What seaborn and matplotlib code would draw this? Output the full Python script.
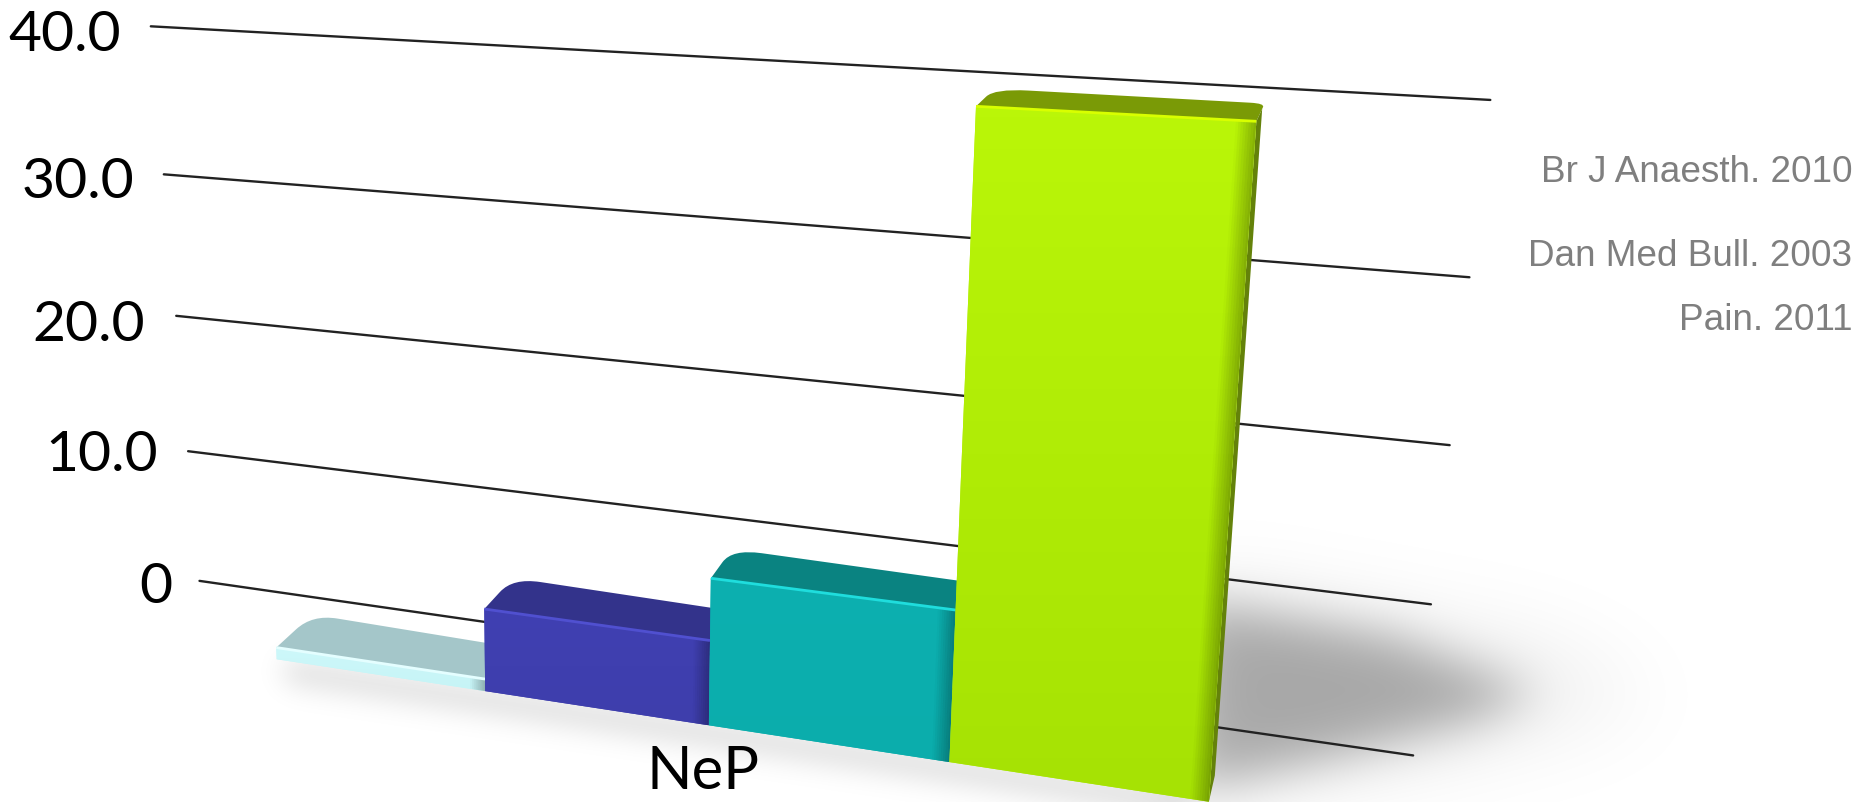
import numpy as np
import pandas as pd
import matplotlib
matplotlib.use("Agg")
import matplotlib.pyplot as plt
from matplotlib.transforms import Transform
from matplotlib.path import Path
from matplotlib.patches import PathPatch
import seaborn as sns

# ---- data ----
categories = ["s1", "s2", "s3", "s4"]
values = [0.8, 5.4, 9.3, 38.0]
tick_values = [0, 10, 20, 30, 40]
tick_labels = ["0", "10.0", "20.0", "30.0", "40.0"]
x_label = "NeP"
sources = ["Br J Anaesth. 2010", "Dan Med Bull. 2003", "Pain. 2011"]

# ---- styles ----
base_colors = ["#C8F6F8", "#3F3FAF", "#0CAFAE", "#B2EE08"]
top_colors = ["#A4C6C9", "#33338B", "#0A8381", "#7A9A06"]
side_colors = ["#8FB5B8", "#2A2A80", "#087072", "#64820A"]
grad_top = ["#CDF8FA", "#4040B2", "#0DB0B0", "#BAF608"]
grad_bot = ["#C6F4F6", "#3E3EAC", "#0BADAC", "#A6E204"]
highlight = ["#E4FEFF", "#5050D0", "#1FDDDD", "#D8FF00"]

S = 1862 / 1568  # calibration points below are in the 1568-wide picture


def homography(src, dst):
    A, b = [], []
    for (u, v), (x, y) in zip(src, dst):
        A.append([u, v, 1, 0, 0, 0, -u * x, -v * x]); b.append(x)
        A.append([0, 0, 0, u, v, 1, -u * y, -v * y]); b.append(y)
    h = np.linalg.solve(np.array(A, float), np.array(b, float))
    return np.append(h, 1).reshape(3, 3)


class Perspective(Transform):
    input_dims = output_dims = 2
    is_separable = False
    has_inverse = False

    def __init__(self, H):
        super().__init__()
        self.H = H

    def transform_non_affine(self, values):
        p = np.asarray(values, float)
        q = np.c_[p, np.ones(len(p))] @ self.H.T
        return q[:, :2] / q[:, 2:3]


def plane(src, dst):
    return Perspective(homography(src, [(x * S, y * S) for x, y in dst]))


REF = 38.0
bar_corners = [(-.5, 0), (3.5, 0), (-.5, REF), (3.5, REF)]
wall = plane([(0, 0), (1, 0), (0, 40), (1, 40)],
             [(168, 490), (1190, 637), (127, 23), (1255, 85)])
front = plane(bar_corners, [(233, 556), (1018, 676), (216, 58), (1058, 103)])
back = plane(bar_corners, [(263, 528), (1023, 654), (261, 44), (1065, 88)])


def F(x, y):
    return front.transform_non_affine(np.array([[x, y]]))[0]


def B(x, y):
    return back.transform_non_affine(np.array([[x, y]]))[0]


sns.set_theme(style="white")
fig = plt.figure(figsize=(18.62, 8.03), dpi=100, facecolor="white")
ax = fig.add_axes([0, 0, 1, 1])

# gridlines
grid_df = pd.DataFrame([(t, u) for t in tick_values for u in (0, 1)], columns=["tick", "u"])
sns.lineplot(data=grid_df, x="u", y="tick", units="tick", estimator=None,
             color="#222222", linewidth=1.7, ax=ax, legend=False)
grid_lines = list(ax.get_lines())

# bars
sns.barplot(x=categories, y=values, hue=categories, palette=base_colors, width=1.0,
            saturation=1, errorbar=None, legend=False, dodge=False, ax=ax)
bars = list(ax.patches)

ax.set_xlim(0, 1862)
ax.set_ylim(803, 0)
ax.axis("off")
px = ax.transData

for ln in grid_lines:
    ln.set_transform(wall + px)
    ln.set_clip_on(False)
    ln.set_zorder(2)
    ln.set_solid_capstyle("round")

# soft floor shadows
H, W = 803, 1862
PAD = 220
yy, xx = np.mgrid[0:H + 2 * PAD, 0:W + 2 * PAD]
pts = np.c_[xx.ravel() + .5 - PAD, yy.ravel() + .5 - PAD]


def blurred(poly, sigma):
    m = Path(np.array(poly) * S).contains_points(pts).reshape(H + 2 * PAD, W + 2 * PAD).astype(float)
    fy = np.fft.fftfreq(m.shape[0])[:, None]
    fx = np.fft.rfftfreq(m.shape[1])[None, :]
    g = np.exp(-2 * (np.pi * sigma) ** 2 * (fx ** 2 + fy ** 2))
    out = np.fft.irfft2(np.fft.rfft2(m) * g, s=m.shape)
    return out[PAD:PAD + H, PAD:PAD + W]


cast = blurred([(1000, 505), (1000, 668), (1110, 642), (1240, 608), (1295, 585), (1170, 535)], 24)
wide = blurred([(1000, 490), (1000, 670), (1200, 640), (1400, 590), (1300, 545)], 45)
along = blurred([(240, 556), (1000, 668), (1000, 688), (240, 575)], 14)
alpha = np.clip(0.27 * cast + 0.08 * wide + 0.15 * along, 0, 1)
rgba = np.zeros((H, W, 4))
rgba[..., 3] = alpha
ax.imshow(rgba, extent=(0, W, H, 0), zorder=1, aspect="auto", interpolation="bilinear")
ax.set_xlim(0, 1862)
ax.set_ylim(803, 0)

# 3D bodies, built from the bars seaborn produced
for i, rect in enumerate(bars):
    x0 = rect.get_x()
    x1 = x0 + rect.get_width()
    v = rect.get_height()
    z = 10 + 10 * i

    def T(x, t):
        return (1 - t) * F(x, v) + t * B(x, v)

    w = x1 - x0
    top = [T(x0, 0), T(x1, 0), T(x1, .8), T(x1, 1), T(x1 - .05 * w, 1),
           T(x0 + .13 * w, 1), T(x0, 1), T(x0, .55), T(x0, 0)]
    codes = [Path.MOVETO, Path.LINETO, Path.LINETO, Path.CURVE3, Path.CURVE3,
             Path.LINETO, Path.CURVE3, Path.CURVE3, Path.CLOSEPOLY]
    ax.add_patch(PathPatch(Path(np.array(top), codes), fc=top_colors[i], ec="none", zorder=z))

    side = np.array([T(x1, 0), T(x1, .7), B(x1, 0), F(x1, 0)])
    ax.add_patch(plt.Polygon(side, fc=side_colors[i], ec="none", zorder=z + 1))

    rect.set_transform(front + px)
    rect.set_clip_on(False)
    rect.set_edgecolor("none")
    rect.set_linewidth(0)
    rect.set_zorder(z + 2)

    # vertical colour gradient on the front face
    c0, c1 = (np.array(matplotlib.colors.to_rgb(c)) for c in (grad_top[i], grad_bot[i]))
    t = np.linspace(0, 1, 64)[:, None, None]
    grad = (1 - t) * c0[None, None, :] + t * c1[None, None, :]
    corners = np.array([F(x0, 0), F(x1, 0), F(x1, v), F(x0, v)])
    ymin, ymax = corners[:, 1].min(), corners[:, 1].max()
    xmin, xmax = corners[:, 0].min(), corners[:, 0].max()
    im = ax.imshow(grad, extent=(xmin, xmax, ymax, ymin), zorder=z + 3, aspect="auto")
    clip = PathPatch(Path(np.r_[corners, corners[:1]], closed=True), transform=px,
                     fc="none", ec="none")
    im.set_clip_path(clip)
    ax.set_xlim(0, 1862)
    ax.set_ylim(803, 0)

    # darkening towards the right edge of the front face
    n = 8
    band = .07 * w
    for k in range(n):
        a = x1 - band * (n - k) / n
        b = x1 - band * (n - k - 1) / n
        q = np.array([F(a, 0), F(b, 0), F(b, v), F(a, v)])
        ax.add_patch(plt.Polygon(q, fc="black", ec="none", alpha=.02 + .035 * k, zorder=z + 4))

    # lit front top edge
    ax.plot([x0, x1], [v, v], color=highlight[i], lw=2.0, transform=front + px,
            clip_on=False, zorder=z + 5, solid_capstyle="butt")

ax.set_xlim(0, 1862)
ax.set_ylim(803, 0)

# texts
tick_xy = [(145, 495), (133, 384), (122, 274), (113, 154), (102, 30)]
for lab, (x, y) in zip(tick_labels, tick_xy):
    ax.text(x * S, y * S, lab, family=["Lato", "DejaVu Sans"], fontsize=41, color="black",
            ha="right", va="center", zorder=100)
ax.text(592 * S, 650 * S, x_label, family=["Lato", "DejaVu Sans"], fontsize=43, color="black",
        ha="center", va="center", zorder=100)
for lab, y in zip(sources, (145, 216, 270)):
    ax.text(1560 * S, y * S, lab, family=["Liberation Sans", "DejaVu Sans"], fontsize=26.6,
            color="#7F7F7F", ha="right", va="center", zorder=100)

fig.savefig("out.png", dpi=100, facecolor="white")
